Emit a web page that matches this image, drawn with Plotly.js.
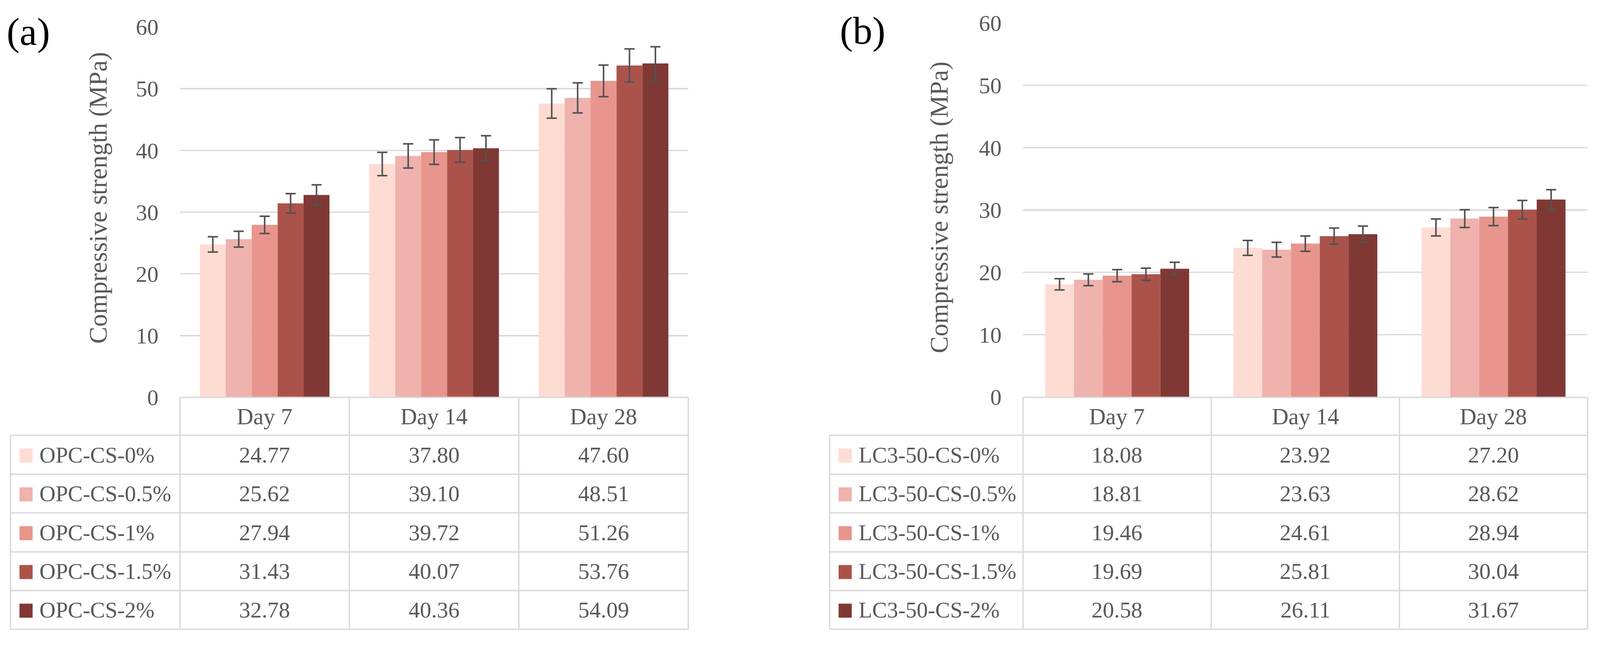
<!DOCTYPE html>
<html>
<head>
<meta charset="utf-8">
<script src="https://cdn.plot.ly/plotly-3.0.1.min.js"></script>
<style>
  html, body { margin: 0; padding: 0; background: #ffffff; overflow: hidden; }
  #chart { width: 100vw; height: 100vh; }
</style>
</head>
<body>
<div id="chart"></div>
<script>
// ---------------- DATA ----------------
const days = ['Day 7', 'Day 14', 'Day 28'];
const tickVals = [0, 10, 20, 30, 40, 50, 60];

// Panel (a): OPC mixes
const opcNames = ['OPC-CS-0%', 'OPC-CS-0.5%', 'OPC-CS-1%', 'OPC-CS-1.5%', 'OPC-CS-2%'];
const opc0   = [24.77, 37.80, 47.60];
const opc05  = [25.62, 39.10, 48.51];
const opc1   = [27.94, 39.72, 51.26];
const opc15  = [31.43, 40.07, 53.76];
const opc2   = [32.78, 40.36, 54.09];
// error bar half-lengths
const opcErr0  = [1.24, 1.89, 2.38];
const opcErr05 = [1.28, 1.96, 2.43];
const opcErr1  = [1.40, 1.99, 2.56];
const opcErr15 = [1.57, 2.00, 2.69];
const opcErr2  = [1.64, 2.02, 2.70];

// Panel (b): LC3-50 mixes
const lcNames = ['LC3-50-CS-0%', 'LC3-50-CS-0.5%', 'LC3-50-CS-1%', 'LC3-50-CS-1.5%', 'LC3-50-CS-2%'];
const lc0   = [18.08, 23.92, 27.20];
const lc05  = [18.81, 23.63, 28.62];
const lc1   = [19.46, 24.61, 28.94];
const lc15  = [19.69, 25.81, 30.04];
const lc2   = [20.58, 26.11, 31.67];
const lcErr0  = [0.90, 1.20, 1.36];
const lcErr05 = [0.94, 1.18, 1.43];
const lcErr1  = [0.97, 1.23, 1.45];
const lcErr15 = [0.98, 1.29, 1.50];
const lcErr2  = [1.03, 1.31, 1.58];

const seriesColors = ['#FEDCD3', '#EFB2AD', '#E8968D', '#AB534B', '#803834'];
const yTitle = 'Compressive strength (MPa)';
const panelLabels = ['(a)', '(b)'];

// ---------------- LAYOUT HELPERS ----------------
// geometry below is expressed in the reference's 4268 x 1655 pixel frame
const RW = 4268, RH = 1655;
const W = window.innerWidth || RW;
const H = window.innerHeight || RH;
const px = x => x / RW;
const py = y => 1 - y / RH;
const FONT = '"Palatino Linotype", "Book Antiqua", Palatino, "Liberation Serif", serif';
const TXT = '#595959';
const GRID = '#D9D9D9';

const opcVals = [opc0, opc05, opc1, opc15, opc2];
const opcErrs = [opcErr0, opcErr05, opcErr1, opcErr15, opcErr2];
const lcVals = [lc0, lc05, lc1, lc15, lc2];
const lcErrs = [lcErr0, lcErr05, lcErr1, lcErr15, lcErr2];

const traces = [];
function addBars(names, vals, errs, xa, ya) {
  names.forEach((n, i) => {
    traces.push({
      type: 'bar', name: n, x: days, y: vals[i], xaxis: xa, yaxis: ya,
      marker: { color: seriesColors[i], line: { width: 0 } },
      error_y: { type: 'data', array: errs[i], visible: true, color: '#525252', thickness: 4, width: 13 },
      showlegend: false, hoverinfo: 'x+y+name'
    });
  });
}
addBars(opcNames, opcVals, opcErrs, 'x', 'y');
addBars(lcNames, lcVals, lcErrs, 'x2', 'y2');

const panels = [
  { xa: 'x', tableLeft: 28, plotL: 480, plotR: 1836, y0: 1018, y60: 69, titleX: 262, titleY: 507, labX: 76, labY: 82, names: opcNames, vals: opcVals },
  { xa: 'x2', tableLeft: 2213, plotL: 2729, plotR: 4235, y0: 1017, y60: 59, titleX: 2505, titleY: 532, labX: 2301, labY: 78, names: lcNames, vals: lcVals }
];
const rowLines = [1018, 1115, 1215, 1314, 1414, 1513, 1612];

const shapes = [];
const annotations = [];
const lineStyle = { color: GRID, width: 3.5 };

panels.forEach((p, k) => {
  const colW = (p.plotR - p.plotL) / 3;
  shapes.push({ type: 'line', xref: 'paper', yref: 'paper', x0: px(p.plotL), x1: px(p.plotR), y0: py(rowLines[0]), y1: py(rowLines[0]), line: lineStyle, layer: 'above' });
  for (let r = 1; r < rowLines.length; r++) {
    shapes.push({ type: 'line', xref: 'paper', yref: 'paper', x0: px(p.tableLeft), x1: px(p.plotR), y0: py(rowLines[r]), y1: py(rowLines[r]), line: lineStyle });
  }
  for (let c = 0; c <= 3; c++) {
    const xx = p.plotL + c * colW;
    shapes.push({ type: 'line', xref: 'paper', yref: 'paper', x0: px(xx), x1: px(xx), y0: py(rowLines[0]), y1: py(rowLines[6]), line: lineStyle });
  }
  shapes.push({ type: 'line', xref: 'paper', yref: 'paper', x0: px(p.tableLeft), x1: px(p.tableLeft), y0: py(rowLines[1]), y1: py(rowLines[6]), line: lineStyle });

  days.forEach(d => {
    annotations.push({ xref: p.xa, yref: 'paper', x: d, y: py((rowLines[0] + rowLines[1]) / 2), text: d, showarrow: false,
      xanchor: 'center', yanchor: 'middle', font: { family: FONT, size: 59, color: TXT } });
  });
  p.names.forEach((n, i) => {
    const yc = (rowLines[i + 1] + rowLines[i + 2]) / 2;
    shapes.push({ type: 'rect', xref: 'paper', yref: 'paper', x0: px(p.tableLeft + 24), x1: px(p.tableLeft + 59), y0: py(yc - 18 + 2), y1: py(yc + 18 + 2),
      fillcolor: seriesColors[i], line: { width: 0 } });
    annotations.push({ xref: 'paper', yref: 'paper', x: px(p.tableLeft + 75), y: py(yc), text: n, showarrow: false,
      xanchor: 'left', yanchor: 'middle', font: { family: FONT, size: 57, color: TXT } });
    days.forEach((d, j) => {
      annotations.push({ xref: p.xa, yref: 'paper', x: d, y: py(yc), text: p.vals[i][j].toFixed(2), showarrow: false,
        xanchor: 'center', yanchor: 'middle', font: { family: FONT, size: 58, color: TXT } });
    });
  });
  annotations.push({ xref: 'paper', yref: 'paper', x: px(p.titleX), y: py(p.titleY), text: yTitle, textangle: -90, showarrow: false,
    xanchor: 'center', yanchor: 'middle', font: { family: FONT, size: 65, color: TXT } });
  annotations.push({ xref: 'paper', yref: 'paper', x: px(p.labX), y: py(p.labY), text: panelLabels[k], showarrow: false,
    xanchor: 'center', yanchor: 'middle', font: { family: FONT, size: 100, color: '#000000' } });
});

function yAxis(p, anchor) {
  return {
    domain: [py(p.y0), py(p.y60)], range: [0, 60], anchor: anchor,
    tickvals: tickVals, ticks: '', showline: false, zeroline: false,
    showgrid: true, gridcolor: GRID, gridwidth: 3.5,
    tickfont: { family: FONT, size: 58, color: TXT }, ticklabelstandoff: 54,
    fixedrange: true
  };
}
function xAxis(p, anchor) {
  return {
    domain: [px(p.plotL), px(p.plotR)], anchor: anchor, type: 'category',
    categoryorder: 'array', categoryarray: days,
    showticklabels: false, ticks: '', showline: false, showgrid: false, zeroline: false, fixedrange: true
  };
}

const layout = {
  width: W, height: H,
  margin: { l: 0, r: 0, t: 0, b: 0, pad: 0 },
  paper_bgcolor: '#ffffff', plot_bgcolor: '#ffffff',
  barmode: 'group', bargap: 0.235, bargroupgap: 0,
  showlegend: false,
  xaxis: xAxis(panels[0], 'y'),
  yaxis: yAxis(panels[0], 'x'),
  xaxis2: xAxis(panels[1], 'y2'),
  yaxis2: yAxis(panels[1], 'x2'),
  shapes: shapes,
  annotations: annotations,
  font: { family: FONT, color: TXT }
};

Plotly.newPlot('chart', traces, layout, { displayModeBar: false, staticPlot: true });
</script>
</body>
</html>
